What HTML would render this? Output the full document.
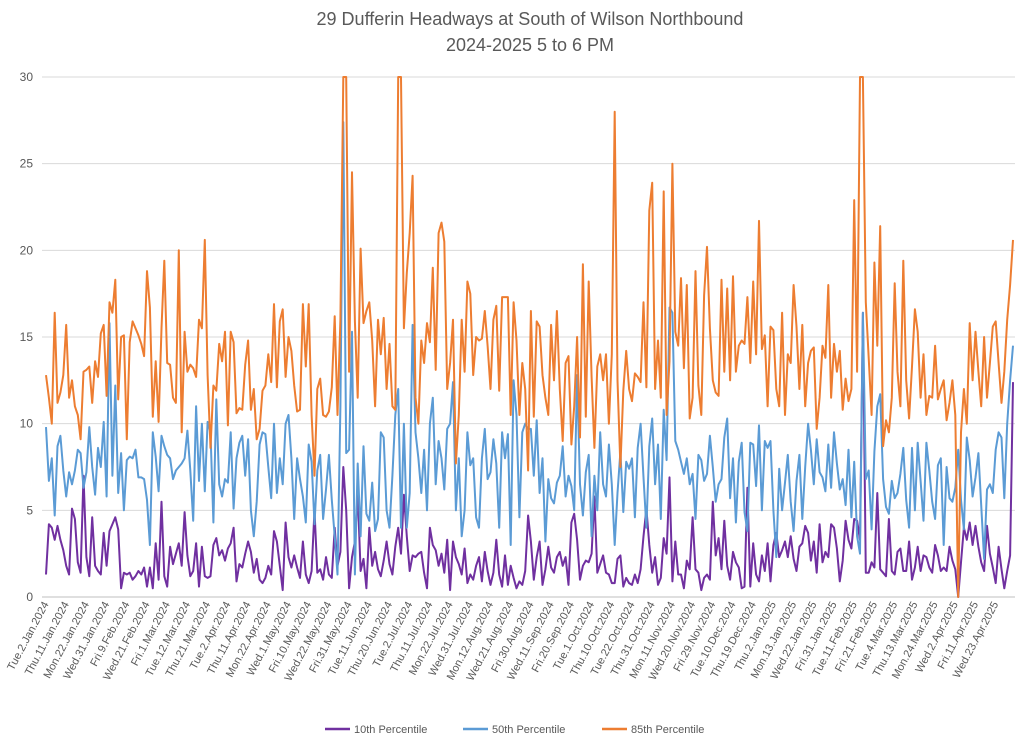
<!DOCTYPE html>
<html><head><meta charset="utf-8"><style>
body{margin:0;background:#fff;}
svg{display:block;font-family:"Liberation Sans",sans-serif;}
</style></head><body>
<svg id="chart" width="1024" height="742" viewBox="0 0 1024 742">
<text x="530" y="25" text-anchor="middle" font-size="18" fill="#595959">29 Dufferin Headways at South of Wilson Northbound</text>
<text x="530" y="51" text-anchor="middle" font-size="18" fill="#595959">2024-2025 5 to 6 PM</text>
<g id="grid"></g>
<g id="yticks"></g>
<g id="xticks"></g>
<g id="series"></g>
<g>
<line x1="325" y1="729" x2="350" y2="729" stroke="#7030a0" stroke-width="2.5"/>
<text x="354" y="733" font-size="11" fill="#595959">10th Percentile</text>
<line x1="463" y1="729" x2="488" y2="729" stroke="#5b9bd5" stroke-width="2.5"/>
<text x="492" y="733" font-size="11" fill="#595959">50th Percentile</text>
<line x1="602" y1="729" x2="627" y2="729" stroke="#ed7d31" stroke-width="2.5"/>
<text x="631" y="733" font-size="11" fill="#595959">85th Percentile</text>
</g>
</svg>
<script>
const xLabels=["Tue.2.Jan.2024","Thu.11.Jan.2024","Mon.22.Jan.2024","Wed.31.Jan.2024","Fri.9.Feb.2024","Wed.21.Feb.2024","Fri.1.Mar.2024","Tue.12.Mar.2024","Thu.21.Mar.2024","Tue.2.Apr.2024","Thu.11.Apr.2024","Mon.22.Apr.2024","Wed.1.May.2024","Fri.10.May.2024","Wed.22.May.2024","Fri.31.May.2024","Tue.11.Jun.2024","Thu.20.Jun.2024","Tue.2.Jul.2024","Thu.11.Jul.2024","Mon.22.Jul.2024","Wed.31.Jul.2024","Mon.12.Aug.2024","Wed.21.Aug.2024","Fri.30.Aug.2024","Wed.11.Sep.2024","Fri.20.Sep.2024","Tue.1.Oct.2024","Thu.10.Oct.2024","Tue.22.Oct.2024","Thu.31.Oct.2024","Mon.11.Nov.2024","Wed.20.Nov.2024","Fri.29.Nov.2024","Tue.10.Dec.2024","Thu.19.Dec.2024","Thu.2.Jan.2025","Mon.13.Jan.2025","Wed.22.Jan.2025","Fri.31.Jan.2025","Tue.11.Feb.2025","Fri.21.Feb.2025","Tue.4.Mar.2025","Thu.13.Mar.2025","Mon.24.Mar.2025","Wed.2.Apr.2025","Fri.11.Apr.2025","Wed.23.Apr.2025"];
const yTicks=[0,5,10,15,20,25,30];
const p85=[12.8,11.5,10,16.4,11.2,11.8,12.8,15.7,11.5,12.5,11,10.5,9.1,13,13.1,13.3,11.2,13.6,12.7,15.2,15.7,
11.6,17,16.4,18.3,11.4,15,15.1,9.1,14.7,15.9,15.5,15.1,14.6,13.9,18.8,16.7,10.4,13.6,10.1,15.5,19.4,
13.5,13.4,11.5,11.2,20,9.5,15.3,13,13.4,13.2,12.7,16,15.5,20.6,12.8,8.6,12.2,11.9,14.6,13.6,15.3,
9.9,15.3,14.7,10.6,10.9,10.8,13.4,14.8,10.8,12,9.1,9.7,11.9,12.2,14,12.4,16.9,12.1,15.9,16.6,12.7,
15,14.2,12.2,10.7,10.8,16.9,13.3,16.9,10.5,7,12,12.6,10.5,10.4,10.7,12.1,16.2,10.5,16,30,30,
13,24.5,15.9,11.5,20.1,15.8,16.5,17,14.8,11,16,14,16.1,12,14.6,11,10.8,30,30,15.5,18.7,
21,24.3,11.5,10,14.8,13.5,15.8,14.7,19,13.1,21,21.6,20.5,12,13.5,16,7.7,10.5,16,13,18.2,
17.5,12.8,15,14.8,14.9,16.5,14.5,12,16,16.8,11.9,17.3,17.3,17.3,10.5,17,14.8,10.5,13.5,12,7.3,
16.5,10.4,15.9,15.6,12.8,11.5,10.5,15.7,12.5,16.5,12,9,13.5,13.9,8.8,11,15,9.2,19.2,10.4,18.2,
12.7,8.6,13.3,14,12.5,14,10,14,28,12.5,7.5,11.9,14.2,12,11.3,12.9,12.7,12.4,17,12.1,22.3,
23.9,12,14.8,11.5,23.4,10.5,13.6,25,15.3,14.5,18.4,13.2,18,10.3,11.5,18.8,12.2,10.5,17.4,20.2,15.5,
12.5,11.8,11.6,18.3,13,17.8,12.5,18.5,13,14.5,14.8,14.6,17.3,13.5,18.2,14,21.7,14.3,15.1,11,15.6,
15.4,12,11,16.4,10.5,14,13.5,18,15.6,12,15.7,11,13.5,14.2,14.4,9.7,11.5,14.5,13.8,18,11.5,
14.6,13,14.2,10.8,12.6,11.3,12,22.9,13,30,30,17,13.8,10.5,19.3,14.5,21.4,8.7,10.2,9.5,11.5,
18.1,13,11,19.4,12.5,10.3,13.3,16.6,15.3,11.5,14,10.5,11.6,11.5,14.5,11.4,12,12.5,10.2,11.2,12.5,
10.5,0,9.5,12,10,15.8,12.5,15.3,13,11,15,11.5,13.5,15.6,15.9,13.5,11.2,13,16,18,20.6];
const p50=[9.8,6.7,8,4.7,8.7,9.3,7.3,5.8,7.2,6.5,7.3,8.5,8.3,6.3,7.2,9.8,7.5,5.9,8.6,7.5,10.1,
5.8,15.8,7,12.2,6,8.3,5,7.9,8.1,8,8.5,6.9,6.9,6.8,5.6,3,9.5,8.1,6.1,9.3,8.7,
8.2,8,6.8,7.3,7.5,7.7,8,9.6,7.3,4.4,11,6.7,10,6.1,10.1,9.5,4.3,11.4,6.5,5.8,6.8,
6.6,9.5,5.1,8,8.9,9.3,7,9.1,5,3.5,5.5,8.8,9.5,9.4,7.5,5.7,10,6,8,6.5,10,
10.5,8,4.5,8,6.8,5.8,4.3,8.8,7.8,4.2,7.3,8.2,4.5,6.2,8.2,5.6,3.5,1.3,11,27.4,8.3,
8.5,15.3,1.3,7.7,3.5,8.7,4.8,4.4,6.6,3.8,4.5,9.5,9.2,5,4,7,10.5,12,4,10,4,
6,15.7,9.5,8,6,8.5,5,10,11.5,6.5,9,8,6.2,9.7,10,12.4,5,8,3.5,5,9.5,
7.6,8,4.6,4,8,9.7,6.8,7.2,9.1,7.7,4,9.5,8,9.4,3,12.5,10.5,4.6,9.5,10,9.7,
9.7,7,10.2,6,8,3.2,6.8,5.7,5.4,6.6,7,8.7,5.8,7,6.4,5,12.8,6.5,4.7,7.2,8.2,
3.5,7,5,9.5,6.5,5.8,8.8,6.5,3,6,8.4,4.9,7.8,7.4,8,4.6,8.6,10,6.9,4,8.7,
10.3,6.5,8.8,4.5,10.8,7.9,16.7,16.4,9,8.5,7.8,7.1,8,6.5,7.1,4.5,8.2,7.9,6.7,7.1,9.3,
7.5,5.5,6.5,6.8,9.2,10.3,5.7,8,4.3,7.8,8.9,4.9,3.8,8.9,8.8,6.4,9.9,5,9,8.6,9,
5,2.3,7.4,5,6.6,8.2,5.5,3.8,6.7,8.2,4.5,7.5,10,8.5,6.5,9.1,7.2,6.9,6.1,8.8,6.3,
9.5,7.7,6.2,6.8,5.3,8.5,4.6,7.8,3.5,2.5,16.4,6.8,7.3,3.9,8.4,11,11.7,6.8,5.2,4.8,6.7,
5.7,6,7.1,8.6,5.6,4,8.6,5,8.9,6.7,4.4,8.9,7.3,5.5,4.5,7.6,8,3,7.5,5.7,5.5,
6.3,8.5,5.6,3.9,9.2,7.9,5.8,6.9,8.3,5.3,2.2,6.2,6.5,6,8.5,9.5,9.2,5.7,10,12.5,14.5];
const p10=[1.3,4.2,4,3.3,4.1,3.3,2.7,1.8,1.3,5.1,4.5,2,1.4,7,2.3,1.2,4.6,1.8,1.5,1.3,3.7,
1.8,3.8,4.2,4.6,3.9,0.5,1.4,1.3,1.4,1,1.2,1.5,1.3,1.7,0.6,1.7,0.5,3.1,1,5.5,1.2,
0.6,2.9,1.9,2.5,3.1,1.8,4.9,2.4,1.2,1.5,3.1,0.6,2.9,1.2,1.1,1.2,3,3.4,2.4,2.7,2.1,
2.8,3.1,4,0.9,1.9,1.7,2.5,3.2,2.6,1.4,2.2,1,0.8,1.1,1.8,1.3,3.8,3.2,1.8,0.4,4.3,
2.3,1.7,2.4,1.7,1.1,3.2,1.3,0.8,1.5,5,1.4,1.6,1,2.3,1.3,1.1,4,1.8,2.6,7.5,5,
0.5,2.3,3.2,6,1.5,2.2,0.5,4,1.8,2.6,1.6,1.2,2.1,3.2,1.9,1.3,2.9,4,2.5,5.9,3.5,
1.5,2.4,2.3,2.5,2.6,1.4,0.5,4,3,2.7,1.8,2.5,1.4,3.3,0.4,3.2,2.3,1.9,1.3,2.8,0.8,
1.3,1,1.8,2.3,0.9,2.6,1.5,0.7,1.4,3.3,1.3,0.6,2.4,0.7,1.8,1.1,0.5,0.9,0.7,1.5,4.7,
3.2,1,2.3,3.2,0.7,1.6,2.9,1.7,1.4,2.3,2.6,1.8,2.3,0.7,4.3,4.8,3.3,1,1.8,2.1,2,
2.5,5.8,1.4,1.9,2.4,1.4,1.3,0.8,0.8,2.2,2.4,0.6,1.1,0.8,0.7,1.3,0.8,1.6,3.5,5.1,3,
1.4,2.3,0.7,1.1,3.4,2.5,6.9,0.9,3.2,1.3,1.3,0.5,2.1,1.6,4.6,1.6,1.4,0.4,1.1,1.3,1,
5.5,2.4,3.4,1.6,4.4,1.8,1,2.6,2,1.7,0.5,0.6,6.3,0.6,3.1,1.3,0.9,2.4,1.5,3.1,0.9,
3,3.7,2.3,2.7,3.2,2.3,3.5,2.2,1.5,2.9,3.1,4.1,3.7,2.1,3.2,1.4,4.2,2,2.6,2.3,4.2,
4,2.8,0.9,2.1,4.4,3.3,2.8,4.5,4.4,3.3,16.4,1.4,1.4,2,1.7,6,1.6,1.4,1.2,4.5,1.5,
1.3,2.6,2.8,1.5,1.5,3.2,1,1.7,2.9,1.5,2.4,2.3,1.7,1.4,3,2.4,1.5,1.7,1.5,2.9,2.1,
1.6,0,2,4,3.3,4.3,3,4.1,2.9,2,1.5,4.1,2.5,1.7,0.8,2.9,1.6,0.5,1.5,2.4,12.4];

const NS="http://www.w3.org/2000/svg";
const X0=46,X1=1013,Y0=597,Y1=77,YMAX=30;
const n=p85.length;
function xs(i){return X0+i*(X1-X0)/(n-1);}
function ys(v){return Y0-(v/YMAX)*(Y0-Y1);}
const grid=document.getElementById('grid'),yt=document.getElementById('yticks'),xt=document.getElementById('xticks'),ser=document.getElementById('series');
yTicks.forEach(t=>{
  const l=document.createElementNS(NS,'line');
  
  
  l.setAttribute('x1',42);l.setAttribute('x2',1015);l.setAttribute('y1',ys(t));l.setAttribute('y2',ys(t));
  l.setAttribute('stroke',t===0?'#bfbfbf':'#d9d9d9');l.setAttribute('stroke-width',1);
  grid.appendChild(l);
  const tx=document.createElementNS(NS,'text');
  
  
  tx.setAttribute('x',33);tx.setAttribute('y',ys(t)+4);tx.setAttribute('text-anchor','end');
  tx.setAttribute('font-size','12');tx.setAttribute('fill','#595959');tx.textContent=t;
  yt.appendChild(tx);
});
xLabels.forEach((lab,k)=>{
  const x=xs(k*7);
  const tx=document.createElementNS(NS,'text');
  
  
  tx.setAttribute('transform','translate('+(x+3)+',604) rotate(-62)');
  tx.setAttribute('text-anchor','end');tx.setAttribute('font-size','11');tx.setAttribute('fill','#595959');
  tx.textContent=lab;xt.appendChild(tx);
});
[[p10,'#7030a0','line-10th-percentile'],[p50,'#5b9bd5','line-50th-percentile'],[p85,'#ed7d31','line-85th-percentile']].forEach(s=>{
  const p=document.createElementNS(NS,'polyline');
  
  
  p.setAttribute('points',s[0].map((v,i)=>xs(i).toFixed(1)+','+ys(v).toFixed(1)).join(' '));
  p.setAttribute('fill','none');p.setAttribute('stroke',s[1]);p.setAttribute('stroke-width','2');
  p.setAttribute('stroke-linejoin','round');
  ser.appendChild(p);
});
</script>
</body></html>
